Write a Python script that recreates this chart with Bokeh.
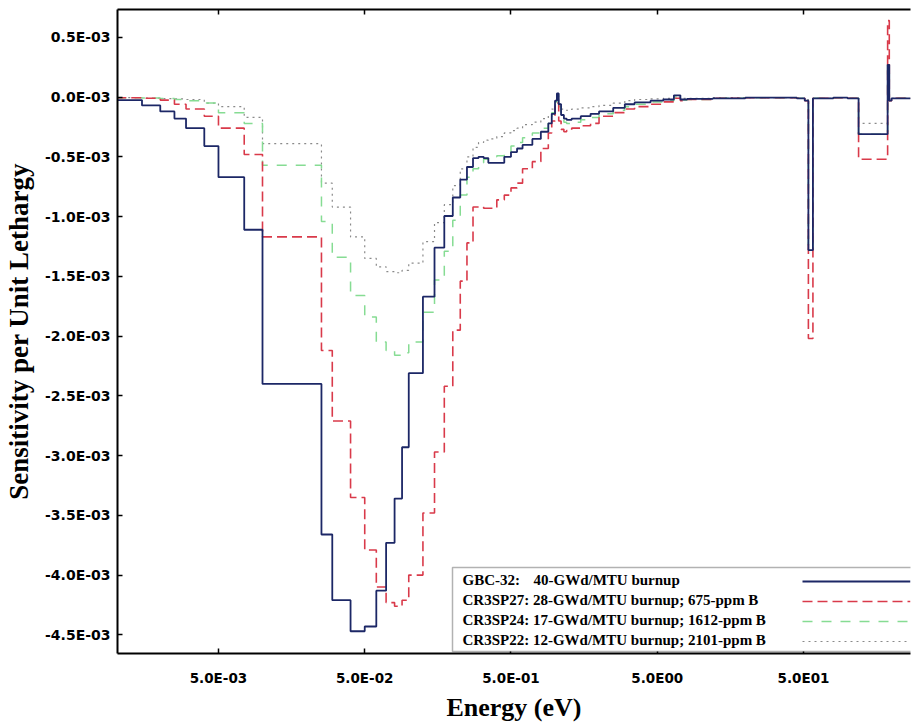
from bokeh.plotting import figure
from bokeh.models import Range1d, FixedTicker, LogAxis, BoxAnnotation, Label, Arrow
from bokeh.embed import file_html
from bokeh.resources import INLINE

# ---------------- data ----------------
# energy group boundaries (eV)
energy_edges = [1.0e-3, 1.5e-3, 2.0e-3, 2.5e-3, 3.0e-3, 4.0e-3, 5.0e-3, 7.5e-3, 1.0e-2,
                2.53e-2, 3.0e-2, 4.0e-2, 5.0e-2, 6.0e-2, 7.0e-2, 8.0e-2, 9.0e-2, 0.1,
                0.125, 0.15, 0.175, 0.2, 0.225, 0.25, 0.275, 0.3, 0.325, 0.35, 0.4,
                0.45, 0.5, 0.55, 0.6, 0.7, 0.8, 0.9, 0.95, 1.0, 1.03, 1.06, 1.1, 1.15,
                1.2, 1.3, 1.5, 1.75, 2.0, 2.5, 3.0, 3.5, 4.5, 5.5, 6.5, 7.2, 8.0, 12.0,
                20.0, 30.0, 45.0, 51.0, 54.0, 58.0, 80.0, 100.0, 119.0, 188.0, 193.0,
                200.0, 270.0]

# sensitivity per unit lethargy, in units of 1E-03 (one value per group)
gbc32 = [-0.025, -0.07, -0.12, -0.18, -0.26, -0.41, -0.67, -1.11, -2.40,
         -3.66, -4.21, -4.47, -4.43, -4.13, -3.73, -3.36, -2.93, -2.31,
         -1.67, -1.26, -0.995, -0.84, -0.69, -0.585, -0.51, -0.50, -0.51, -0.55,
         -0.55, -0.50, -0.46, -0.43, -0.40, -0.35, -0.29, -0.22, -0.14, -0.03,
         0.03, -0.06, -0.15, -0.18, -0.19, -0.18, -0.16, -0.14, -0.12, -0.09,
         -0.06, -0.045, -0.03, -0.02, 0.015, -0.02, -0.015, -0.01, -0.005, -0.005,
         -0.01, -0.03, -1.28, -0.01, -0.005, -0.01, -0.31, 0.27, -0.03, -0.01]

cr3sp27 = [-0.005, -0.01, -0.025, -0.06, -0.10, -0.16, -0.26, -0.48, -1.17,
           -2.12, -2.71, -3.35, -3.79, -4.10, -4.23, -4.26, -4.21, -4.00,
           -3.48, -2.97, -2.42, -1.95, -1.54, -1.22, -0.92, -0.92, -0.93, -0.93,
           -0.86, -0.82, -0.76, -0.72, -0.60, -0.54, -0.43, -0.30, -0.20, -0.08,
           -0.05, -0.20, -0.27, -0.29, -0.28, -0.26, -0.24, -0.22, -0.16, -0.13,
           -0.10, -0.08, -0.06, -0.04, -0.01, -0.03, -0.02, -0.01, -0.005, -0.005,
           -0.01, -0.03, -2.02, -0.01, -0.005, -0.01, -0.52, 0.64, -0.03, -0.01]

cr3sp24 = [-0.005, -0.008, -0.012, -0.02, -0.03, -0.05, -0.13, -0.22, -0.57,
           -1.04, -1.34, -1.66, -1.84, -2.05, -2.12, -2.16, -2.14, -2.05,
           -1.80, -1.53, -1.29, -1.03, -0.82, -0.67, -0.60, -0.55, -0.52, -0.50,
           -0.49, -0.47, -0.41, -0.38, -0.34, -0.30, -0.26, -0.20, -0.13, -0.04,
           0.01, -0.08, -0.18, -0.21, -0.22, -0.21, -0.19, -0.17, -0.14, -0.11,
           -0.08, -0.06, -0.04, -0.03, 0.0, -0.025, -0.02, -0.01, -0.005, -0.005,
           -0.01, -0.03, -1.28, -0.01, -0.005, -0.01, -0.31, 0.27, -0.03, -0.01]

cr3sp22 = [-0.005, -0.008, -0.012, -0.015, -0.02, -0.05, -0.08, -0.17, -0.39,
           -0.72, -0.92, -1.17, -1.35, -1.42, -1.46, -1.47, -1.45, -1.39,
           -1.21, -1.05, -0.90, -0.74, -0.60, -0.50, -0.42, -0.38, -0.36, -0.35,
           -0.33, -0.30, -0.28, -0.26, -0.23, -0.21, -0.18, -0.15, -0.10, -0.03,
           0.01, -0.06, -0.10, -0.11, -0.11, -0.10, -0.09, -0.08, -0.07, -0.05,
           -0.03, -0.02, -0.015, -0.01, 0.0, -0.01, -0.01, -0.005, -0.005, -0.005,
           -0.01, -0.02, -1.28, -0.01, -0.005, -0.01, -0.22, 0.27, -0.03, -0.01]

x_ticks = [5.0e-3, 5.0e-2, 5.0e-1, 5.0, 50.0]
x_tick_labels = ["5.0E-03", "5.0E-02", "5.0E-01", "5.0E00", "5.0E01"]
y_ticks = [0.5e-3, 0.0, -0.5e-3, -1.0e-3, -1.5e-3, -2.0e-3, -2.5e-3, -3.0e-3,
           -3.5e-3, -4.0e-3, -4.5e-3]
y_tick_labels = ["0.5E-03", "0.0E-03", "-0.5E-03", "-1.0E-03", "-1.5E-03", "-2.0E-03",
                 "-2.5E-03", "-3.0E-03", "-3.5E-03", "-4.0E-03", "-4.5E-03"]

legend_codes = ["GBC-32:", "CR3SP27:", "CR3SP24:", "CR3SP22:"]
legend_descs = ["40-GWd/MTU burnup", "28-GWd/MTU burnup; 675-ppm B",
                "17-GWd/MTU burnup; 1612-ppm B", "12-GWd/MTU burnup; 2101-ppm B"]

UNIT = 1.0e-3

# ---------------- figure ----------------
p = figure(width=911, height=724, x_axis_type="log",
           x_range=Range1d(1.02e-3, 269.5), y_range=Range1d(-4.656e-3, 0.733e-3),
           output_backend="svg", toolbar_location=None,
           min_border_left=117, min_border_right=1, min_border_top=9, min_border_bottom=70,
           background_fill_color="white", border_fill_color="white")
p.grid.visible = False
p.outline_line_color = None

bottom_axis = p.below[0]
left_axis = p.left[0]

bottom_axis.ticker = FixedTicker(ticks=x_ticks, minor_ticks=[])
bottom_axis.major_label_overrides = dict(zip(x_ticks, x_tick_labels))
left_axis.ticker = FixedTicker(ticks=y_ticks, minor_ticks=[])
left_axis.major_label_overrides = dict(zip(y_ticks, y_tick_labels))

top_axis = LogAxis(ticker=FixedTicker(ticks=x_ticks, minor_ticks=[]),
                   major_label_text_font_size="0px", major_label_standoff=0,
                   major_label_overrides={t: "" for t in x_ticks})
p.add_layout(top_axis, "above")

for ax in [bottom_axis, left_axis, top_axis]:
    ax.axis_line_color = "black"
    ax.axis_line_width = 2
    ax.major_tick_in = 5
    ax.major_tick_out = 0
    ax.minor_tick_in = 0
    ax.minor_tick_out = 0
    ax.major_tick_line_width = 1.5
    ax.major_tick_line_color = "black"

for ax in [bottom_axis, left_axis]:
    ax.major_label_text_font = "DejaVu Sans"
    ax.major_label_text_font_style = "bold"
    ax.major_label_text_color = "black"
    ax.axis_label_text_font = "Liberation Serif"
    ax.axis_label_text_font_style = "bold"
    ax.axis_label_text_color = "black"

bottom_axis.axis_label = "Energy (eV)"
bottom_axis.major_label_text_font_size = "13.5px"
bottom_axis.axis_label_text_font_size = "26px"
bottom_axis.major_label_standoff = 16
bottom_axis.axis_label_standoff = 4
left_axis.axis_label = "Sensitivity per Unit Lethargy"
left_axis.major_label_text_font_size = "14px"
left_axis.axis_label_text_font_size = "27px"
left_axis.major_label_standoff = 7
left_axis.axis_label_standoff = 8

# ---------------- series ----------------
styles = [
    (cr3sp22, dict(line_color="#8a8a8a", line_width=1.2, line_dash="2 4")),
    (cr3sp24, dict(line_color="#86dc93", line_width=1.5, line_dash="10 9")),
    (cr3sp27, dict(line_color="#d93a4a", line_width=1.6, line_dash="10 5")),
    (gbc32, dict(line_color="#1c2766", line_width=1.8)),
]
for vals, st in styles:
    ys = [v * UNIT for v in vals]
    ys = ys + [ys[-1]]
    p.step(energy_edges, ys, mode="after", **st)

# ---------------- legend (text left, sample line right) ----------------
p.add_layout(BoxAnnotation(left=335, right=820, bottom=2, top=86,
                           left_units="screen", right_units="screen",
                           bottom_units="screen", top_units="screen",
                           fill_color="white", fill_alpha=1.0,
                           line_color="black", line_width=1.5))

row_y = [74, 54, 34, 14]
legend_styles = [styles[3][1], styles[2][1], styles[1][1], styles[0][1]]
for i in range(4):
    if i == 0:
        p.add_layout(Label(x=345, y=row_y[i], x_units="screen", y_units="screen",
                           text=legend_codes[i], text_baseline="middle",
                           text_font="Liberation Serif", text_font_style="bold",
                           text_font_size="15px", text_color="black"))
        p.add_layout(Label(x=416, y=row_y[i], x_units="screen", y_units="screen",
                           text=legend_descs[i], text_baseline="middle",
                           text_font="Liberation Serif", text_font_style="bold",
                           text_font_size="15px", text_color="black"))
    else:
        p.add_layout(Label(x=345, y=row_y[i], x_units="screen", y_units="screen",
                           text=legend_codes[i] + " " + legend_descs[i],
                           text_baseline="middle",
                           text_font="Liberation Serif", text_font_style="bold",
                           text_font_size="15px", text_color="black"))
    st = legend_styles[i]
    p.add_layout(Arrow(start=None, end=None, x_start=685, y_start=row_y[i] - 2,
                       x_end=793, y_end=row_y[i] - 2,
                       start_units="screen", end_units="screen",
                       line_color=st["line_color"], line_width=st["line_width"],
                       line_dash=st.get("line_dash", "solid")))

open("out.html", "w").write(file_html(p, INLINE))
